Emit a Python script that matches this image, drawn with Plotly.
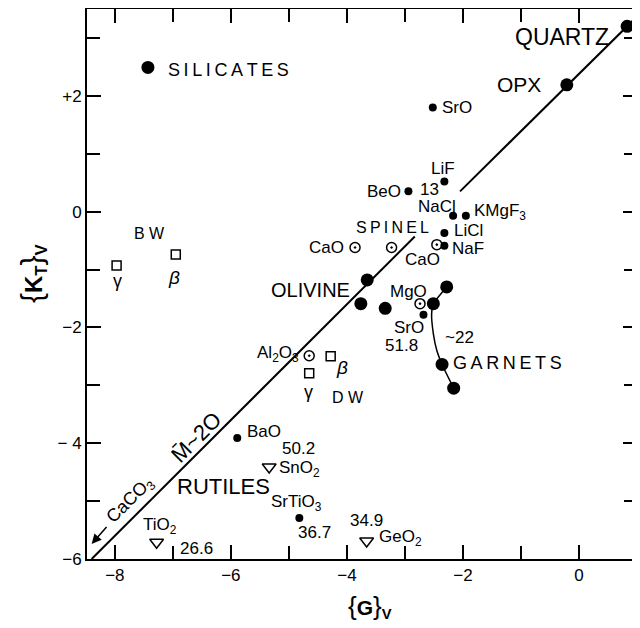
import plotly.graph_objects as go

# ---------------- data ----------------
# large filled circles: silicates
sil_names = ["QUARTZ", "OPX", "OLIVINE", "sil4", "sil5", "sil6", "sil7", "GARNETS", "sil9"]
sil_x = [0.83, -0.21, -3.65, -3.76, -3.34, -2.51, -2.28, -2.36, -2.16]
sil_y = [3.20, 2.19, -1.18, -1.59, -1.67, -1.59, -1.30, -2.64, -3.05]

# key symbol next to "SILICATES"
key_x = [-7.43]
key_y = [2.49]

# small filled circles
sm_names = ["SrO", "LiF", "BeO", "NaCl", "KMgF3", "LiCl", "NaF", "SrO51", "BaO", "SrTiO3"]
sm_x = [-2.52, -2.32, -2.94, -2.17, -1.95, -2.32, -2.32, -2.68, -5.89, -4.82]
sm_y = [1.80, 0.52, 0.35, -0.07, -0.07, -0.37, -0.59, -1.78, -3.91, -5.29]

# dotted circles
ring_names = ["CaO_left", "SPINEL", "CaO", "MgO", "Al2O3"]
ring_x = [-3.86, -3.23, -2.45, -2.74, -4.65]
ring_y = [-0.62, -0.62, -0.57, -1.59, -2.49]

# open squares (BW, DW)
sq_names = ["BW_gamma", "BW_beta", "DW_gamma", "DW_beta"]
sq_x = [-7.97, -6.95, -4.65, -4.28]
sq_y = [-0.93, -0.74, -2.79, -2.50]

# open down-triangles (rutiles)
tri_names = ["SnO2", "TiO2", "GeO2"]
tri_x = [-5.34, -7.28, -3.66]
tri_y = [-4.41, -5.71, -5.69]

# M~20 line (two segments with a gap)
line_x = [-8.40, -2.83, None, -2.05, 0.95]
line_y = [-6.00, -0.43, None, 0.35, 3.32]

# garnet trend curve
gar_x = [-2.28, -2.51, -2.54, -2.51, -2.45, -2.36, -2.16]
gar_y = [-1.30, -1.59, -1.77, -2.11, -2.40, -2.64, -3.05]

# axis ticks
x_major = [-8, -6, -4, -2, 0]
x_major_text = ["\u22128", "\u22126", "\u22124", "\u22122", "0"]
x_minor = [-7, -5, -3, -1]
y_major = [-6, -4, -2, 0, 2]
y_major_text = ["\u22126", "\u2212 4", "\u22122", "0", "+2"]
y_minor = [-5, -3, -1, 1, 3]

FONT = "Liberation Sans"
TH = "\u2009"  # thin space for letter-spaced captions

fig = go.Figure()

fig.add_trace(go.Scatter(x=line_x, y=line_y, mode="lines",
                         line=dict(color="black", width=2), hoverinfo="skip"))
fig.add_trace(go.Scatter(x=gar_x, y=gar_y, mode="lines",
                         line=dict(color="black", width=1.5, shape="spline", smoothing=0.5),
                         hoverinfo="skip"))
fig.add_trace(go.Scatter(x=sil_x, y=sil_y, mode="markers",
                         marker=dict(symbol="circle", size=13, color="black")))
fig.add_trace(go.Scatter(x=key_x, y=key_y, mode="markers",
                         marker=dict(symbol="circle", size=13, color="black")))
fig.add_trace(go.Scatter(x=sm_x, y=sm_y, mode="markers",
                         marker=dict(symbol="circle", size=8, color="black")))
fig.add_trace(go.Scatter(x=ring_x, y=ring_y, mode="markers",
                         marker=dict(symbol="circle-open-dot", size=10, color="black",
                                     line=dict(width=1.5, color="black"))))
fig.add_trace(go.Scatter(x=sq_x, y=sq_y, mode="markers",
                         marker=dict(symbol="square-open", size=9, color="black",
                                     line=dict(width=1.5, color="black"))))
fig.add_trace(go.Scatter(x=tri_x, y=tri_y, mode="markers",
                         marker=dict(symbol="triangle-down-open", size=12, color="black",
                                     line=dict(width=1.5, color="black"))))

ann = []


def lab(text, x, y, xanchor="center", xs=0, ys=0, size=17, angle=0, yanchor="middle"):
    ann.append(dict(text=text, x=x, y=y, xref="x", yref="y", showarrow=False,
                    xanchor=xanchor, yanchor=yanchor, xshift=xs, yshift=ys,
                    textangle=angle, font=dict(family=FONT, size=size, color="black")))


S = sm_names.index
R = ring_names.index
Q = sq_names.index
T = tri_names.index

# small filled circle labels
lab("SrO", sm_x[S("SrO")], sm_y[S("SrO")], "left", 7, 0)
lab("LiF", sm_x[S("LiF")], sm_y[S("LiF")], "center", -1, 13)
lab("BeO", sm_x[S("BeO")], sm_y[S("BeO")], "right", -5, 0)
lab("13", sm_x[S("BeO")], sm_y[S("BeO")], "left", 10, 2)
lab("NaCl", sm_x[S("NaCl")], sm_y[S("NaCl")], "center", -16, 9)
lab("KMgF<sub>3</sub>", sm_x[S("KMgF3")], sm_y[S("KMgF3")], "left", 6, 4)
lab("LiCl", sm_x[S("LiCl")], sm_y[S("LiCl")], "left", 8, 3)
lab("NaF", sm_x[S("NaF")], sm_y[S("NaF")], "left", 6, -3)
lab("SrO", sm_x[S("SrO51")], sm_y[S("SrO51")], "center", -15, -13)
lab("51.8", sm_x[S("SrO51")], sm_y[S("SrO51")], "center", -22, -31)
lab("BaO", sm_x[S("BaO")], sm_y[S("BaO")], "left", 8, 7)
lab("SrTiO<sub>3</sub>", sm_x[S("SrTiO3")], sm_y[S("SrTiO3")], "center", -3, 15)
lab("36.7", sm_x[S("SrTiO3")], sm_y[S("SrTiO3")], "center", 15, -15)

# dotted circle labels
lab("CaO", ring_x[R("CaO_left")], ring_y[R("CaO_left")], "right", -9, 0)
lab("CaO", ring_x[R("CaO")], ring_y[R("CaO")], "center", -14, -15)
lab("MgO", ring_x[R("MgO")], ring_y[R("MgO")], "center", -12, 12)
lab("Al<sub>2</sub>O<sub>3</sub>", ring_x[R("Al2O3")], ring_y[R("Al2O3")], "right", -8, 2)

# square labels
lab("\u03b3", sq_x[Q("BW_gamma")], sq_y[Q("BW_gamma")], "center", 1, -16, 18)
lab("<i>\u03b2</i>", sq_x[Q("BW_beta")], sq_y[Q("BW_beta")], "center", -2, -23, 19)
lab("\u03b3", sq_x[Q("DW_gamma")], sq_y[Q("DW_gamma")], "center", -1, -19, 18)
lab("<i>\u03b2</i>", sq_x[Q("DW_beta")], sq_y[Q("DW_beta")], "center", 11, -11, 19)
lab("B W", -7.41, -0.38, "center", 0, 0, 16)
lab("D W", -3.98, -3.21, "center", 0, 0, 16)

# triangle labels
lab("50.2", tri_x[T("SnO2")], tri_y[T("SnO2")], "left", 11, 18)
lab("SnO<sub>2</sub>", tri_x[T("SnO2")], tri_y[T("SnO2")], "left", 8, -2)
lab("TiO<sub>2</sub>", tri_x[T("TiO2")], tri_y[T("TiO2")], "center", 3, 16)
lab("26.6", tri_x[T("TiO2")], tri_y[T("TiO2")], "left", 21, -6)
lab("34.9", tri_x[T("GeO2")], tri_y[T("GeO2")], "center", 0, 21)
lab("GeO<sub>2</sub>", tri_x[T("GeO2")], tri_y[T("GeO2")], "left", 10, 3)

# silicate labels
lab("QUARTZ", sil_x[0], sil_y[0], "right", -16, -11, 23)
lab("OPX", sil_x[1], sil_y[1], "right", -24, 0, 21)
lab("OLIVINE", -3.91, -1.35, "right", 0, 0, 20)
lab(TH.join("GARNETS"), -2.20, -2.61, "left", 0, 0, 18)
lab(TH.join("SPINEL"), -3.21, -0.28, "center", 0, 0, 16)
lab(TH.join("SILICATES"), -7.12, 2.45, "left", 0, 0, 18)
lab("RUTILES", -6.97, -4.75, "left", 0, 0, 22)
lab("~22", -2.34, -2.17, "left", 0, 0, 17)

# rotated line labels
lab("M\u0304~2O", -6.60, -3.90, "center", 0, 0, 22, -45)
lab("CaCO<sub>3</sub>", -7.73, -4.99, "center", 0, 0, 18, -45)

# CaCO3 arrow
ann.append(dict(x=-8.40, y=-5.74, ax=-8.12, ay=-5.42, xref="x", yref="y",
                axref="x", ayref="y", showarrow=True, arrowhead=2, arrowsize=1.3,
                arrowwidth=1.5, arrowcolor="black", text=""))

# axis titles
ann.append(dict(text="<span style='font-size:30px'>{</span><b>K<sub>T</sub></b>"
                     "<span style='font-size:30px'>}</span><sub><b>V</b></sub>",
                xref="paper", yref="paper", x=-0.098, y=0.52, showarrow=False,
                xanchor="center", yanchor="middle",
                textangle=-90, font=dict(family=FONT, size=24, color="black")))
ann.append(dict(text="<span style='font-size:26px'>{</span><b>G</b>"
                     "<span style='font-size:26px'>}</span><sub><b>V</b></sub>",
                xref="paper", yref="paper", x=0.515, y=-0.087, showarrow=False,
                xanchor="center", yanchor="middle",
                font=dict(family=FONT, size=21, color="black")))

axis_common = dict(showline=True, linecolor="black", linewidth=2, mirror="ticks",
                   ticks="inside", ticklen=14, tickwidth=1.5, tickcolor="black",
                   showgrid=False, zeroline=False, automargin=False,
                   tickfont=dict(family=FONT, size=17, color="black"))

# the page body adds an 8px offset, so the figure is 8px smaller and margins shifted
fig.update_layout(
    width=632, height=620,
    margin=dict(l=79, r=3, t=1, b=69),
    paper_bgcolor="white", plot_bgcolor="white",
    showlegend=False,
    annotations=ann,
    xaxis=dict(range=[-8.48, 1.0], tickmode="array", tickvals=x_major, ticktext=x_major_text,
               minor=dict(tickvals=x_minor, ticks="inside", ticklen=13, tickwidth=1.5,
                          tickcolor="black"),
               **axis_common),
    yaxis=dict(range=[-6.0, 3.5], tickmode="array", tickvals=y_major, ticktext=y_major_text,
               minor=dict(tickvals=y_minor, ticks="inside", ticklen=13, tickwidth=1.5,
                          tickcolor="black"),
               **axis_common),
)

fig.write_html("out.html")
